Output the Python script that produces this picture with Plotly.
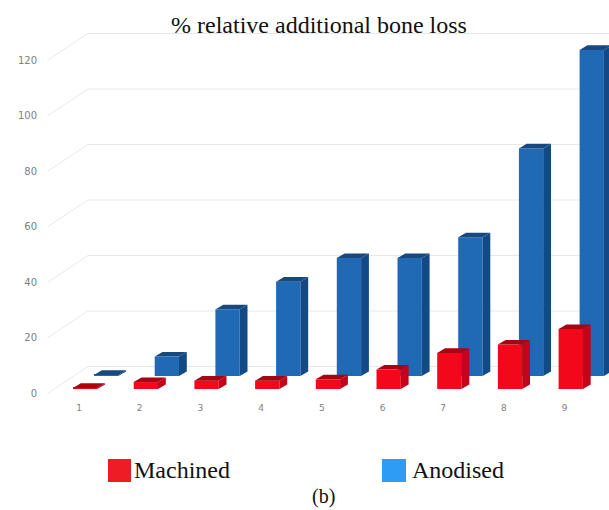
import plotly.graph_objects as go

categories = [1, 2, 3, 4, 5, 6, 7, 8, 9]
machined = [0.4, 2.5, 3, 3, 3.5, 7, 13, 16, 21.6]
anodised = [0.4, 7, 24, 34, 42.5, 42.5, 50, 82, 117.5]
y_ticks = [0, 20, 40, 60, 80, 100, 120]

W, H = 609, 510
PLOT_L, PLOT_B = 48, 398
X_STEP = 60.7            # px per category
Y_UNIT = 2.775           # px per value unit
X0_PX, Y0_PX = 79, 393   # px of category 1 / value 0

xr = [1 + (PLOT_L - X0_PX) / X_STEP, 1 + (W - X0_PX) / X_STEP]
yr = [(Y0_PX - PLOT_B) / Y_UNIT, Y0_PX / Y_UNIT]

BAR_W = 24.3 / X_STEP
DX, DY = 7.8 / X_STEP, 4.6 / Y_UNIT
RED_OFF, RED_BASE = -6 / X_STEP, 4 / Y_UNIT
BLUE_OFF, BLUE_BASE = 15 / X_STEP, 17 / Y_UNIT
WALL_DX, WALL_DY = 40 / X_STEP, 26.5 / Y_UNIT


def faces(values, off, base):
    sx, sy, tx, ty = [], [], [], []
    for c, v in zip(categories, values):
        l, r = c + off, c + off + BAR_W
        b, t = base, base + v
        sx += [r, r + DX, r + DX, r, r, None]
        sy += [b, b + DY, t + DY, t, b, None]
        tx += [l, l + DX, r + DX, r, l, None]
        ty += [t, t + DY, t + DY, t, t, None]
    return sx, sy, tx, ty


def poly(x, y, color):
    return go.Scatter(x=x, y=y, mode="lines", fill="toself", fillcolor=color,
                      line=dict(width=0), showlegend=False, hoverinfo="skip")


fig = go.Figure()
fig.add_bar(x=categories, y=anodised, base=BLUE_BASE, offset=BLUE_OFF, width=BAR_W,
            marker=dict(color="#1f69b5", line=dict(width=0)), name="Anodised", showlegend=False)
fig.add_bar(x=categories, y=machined, base=RED_BASE, offset=RED_OFF, width=BAR_W,
            marker=dict(color="#f2071b", line=dict(width=0)), name="Machined", showlegend=False)

bsx, bsy, btx, bty = faces(anodised, BLUE_OFF, BLUE_BASE)
rsx, rsy, rtx, rty = faces(machined, RED_OFF, RED_BASE)
fig.add_trace(poly(bsx, bsy, "#114a85"))
fig.add_trace(poly(btx, bty, "#17497f"))
fig.add_trace(poly(rsx, rsy, "#c4041a"))
fig.add_trace(poly(rtx, rty, "#a80414"))

for t in y_ticks:
    fig.add_shape(type="path", xref="x", yref="y", layer="below",
                  path=f"M {xr[0]} {t} L {xr[0] + WALL_DX} {t + WALL_DY} L {xr[1]} {t + WALL_DY}",
                  line=dict(color="#e8e8e8", width=1))


# paper coordinates span the plot area only
def px(x):
    return (x - PLOT_L) / (W - PLOT_L)


def py(y):
    return (PLOT_B - y) / PLOT_B


SERIF = "Liberation Serif"
for x0, x1, c in [(108, 131, "#ee1c25"), (382, 406, "#2e9cf5")]:
    fig.add_shape(type="rect", xref="paper", yref="paper", x0=px(x0), x1=px(x1),
                  y0=py(482), y1=py(459), fillcolor=c, line=dict(width=0))
for text, x, y, s in [("Machined", 134, 470, 24), ("Anodised", 412, 470, 24), ("(b)", 312, 496.5, 20)]:
    fig.add_annotation(text=text, xref="paper", yref="paper", x=px(x), y=py(y),
                       xanchor="left", yanchor="middle", showarrow=False, borderpad=0, xshift=-1,
                       font=dict(family=SERIF, size=s, color="#111111"))

fig.update_layout(
    width=W, height=H, autosize=False,
    margin=dict(l=PLOT_L, r=0, t=0, b=H - PLOT_B, pad=0),
    paper_bgcolor="white", plot_bgcolor="white",
    barmode="overlay", showlegend=False,
    title=dict(text="% relative additional bone loss", x=319 / W, xanchor="center",
               y=1 - 25 / H, yanchor="middle", font=dict(family=SERIF, size=24, color="#111111")),
    xaxis=dict(range=xr, tickmode="array", tickvals=categories, ticktext=[str(c) for c in categories],
               showgrid=False, zeroline=False, showline=False, ticks="outside", ticklen=1,
               tickcolor="rgba(0,0,0,0)", tickfont=dict(family="DejaVu Sans", size=9, color="#808080")),
    yaxis=dict(range=yr, tickmode="array", tickvals=y_ticks, ticktext=[str(t) for t in y_ticks],
               showgrid=False, zeroline=False, showline=False, ticks="outside", ticklen=8,
               tickcolor="rgba(0,0,0,0)", tickfont=dict(family="DejaVu Sans", size=10, color="#808080")),
)

fig.write_html("out.html", config={"displayModeBar": False},
               post_script="document.body.style.margin='0';")
